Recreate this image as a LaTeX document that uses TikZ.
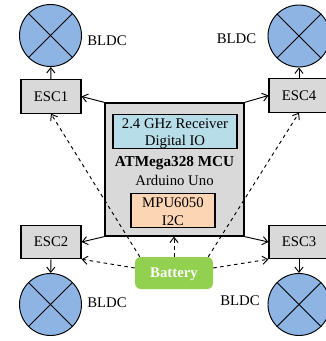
\documentclass[tikz,border=0pt]{standalone}
\usepackage{fontspec}
\setmainfont{Liberation Serif}
\usetikzlibrary{arrows.meta}
\definecolor{motorblue}{RGB}{141,180,226}
\definecolor{escgray}{RGB}{217,217,217}
\definecolor{rxblue}{RGB}{183,222,232}
\definecolor{imuorange}{RGB}{252,213,180}
\definecolor{battgreen}{RGB}{146,208,80}
\tikzset{
  >={Straight Barb[length=4.5pt,width=7pt]},
  motor/.style={draw,circle,inner sep=0pt,minimum size=18.6mm,fill=motorblue,line width=0.8pt},
  esc/.style={draw,inner sep=0pt,minimum width=18mm,minimum height=10mm,fill=escgray,line width=1pt,font=\fontsize{12.6}{15}\selectfont},
  chip/.style={draw,inner sep=0pt,line width=1pt,align=center,minimum height=10mm,font=\fontsize{12.6}{15.3}\selectfont},
  lbl/.style={inner sep=0pt,font=\fontsize{12.6}{15}\selectfont}
}
\begin{document}
\begin{tikzpicture}[x=0.03cm,y=-0.03cm]
\path[use as bounding box] (0,0) rectangle (325,341);

\node[draw,fill=escgray,line width=1pt,minimum width=41.7mm,minimum height=39.9mm,inner sep=0pt] (mcu) at (174.5,169.5) {};
\node[chip,fill=rxblue,minimum width=37.2mm] (rx) at (175,131.5) {};
\node[lbl] (rxtop) at (175,123.5) {2.4 GHz Receiver};
\node[lbl] (rxbot) at (175,141.5) {Digital IO};
\node[lbl,font=\fontsize{13}{15}\selectfont] (mcuname) at (174.5,163) {\textbf{ATMega328 MCU}};
\node[lbl] (board) at (174.5,180.5) {Arduino Uno};
\node[chip,fill=imuorange,minimum width=25.2mm] (imu) at (173,210.5) {};
\node[lbl] (imutop) at (173,202.5) {MPU6050};
\node[lbl] (imubot) at (173,220.5) {I2C};

\node[esc] (esc1) at (51,96.5) {ESC1};
\node[esc] (esc2) at (51,242) {ESC2};
\node[esc] (esc3) at (299,242) {ESC3};
\node[esc] (esc4) at (299,95.5) {ESC4};

\foreach \n/\x/\y in {1/50.5/35.5,2/50.5/304.5,3/299/304.5,4/299/36}{
  \node[motor] (motor\n) at (\x,\y) {};
  \draw[line width=0.8pt] (motor\n.north west) -- (motor\n.south east);
  \draw[line width=0.8pt] (motor\n.north east) -- (motor\n.south west);
}

\node[lbl] (bldc1) at (107,41) {BLDC};
\node[lbl] (bldc2) at (107,303) {BLDC};
\node[lbl] (bldc3) at (240,301) {BLDC};
\node[lbl] (bldc4) at (236.5,39) {BLDC};

\node[fill=battgreen,rounded corners=5pt,minimum width=23.4mm,minimum height=9.6mm,inner sep=0pt] (batt) at (174,273) {};
\node[lbl,text=white,font=\fontsize{12.6}{15}\selectfont\bfseries] (battname) at (174,274) {Battery};

\path[draw,thick,->] (esc1) -- (motor1);
\path[draw,thick,->] (esc4) -- (motor4);
\path[draw,thick,->] (esc2) -- (motor2);
\path[draw,thick,->] (esc3) -- (motor3);

\path[draw,thick,->] (mcu.north west) -- (esc1.east);
\path[draw,thick,->] (mcu.north east) -- (esc4.west);
\path[draw,thick,->] (mcu.south west) -- (esc2.east);
\path[draw,thick,->] (mcu.south east) -- (esc3.west);

\draw[thick,dashed,->] (batt.north west) ++(5,0) coordinate (bnw) (bnw) -- (esc1.south);
\draw[thick,dashed,->] (batt.north east) ++(-5,0) coordinate (bne) (bne) -- (esc4.south);
\draw[thick,dashed,->] (batt.west) ++(0,-5) coordinate (bw) (bw) -- (esc2.south east);
\draw[thick,dashed,->] (batt.east) ++(0,-5) coordinate (be) (be) -- (esc3.south west);
\draw[thick,dashed,->] (batt.north) -- (batt.north |- mcu.south);
\end{tikzpicture}
\end{document}
